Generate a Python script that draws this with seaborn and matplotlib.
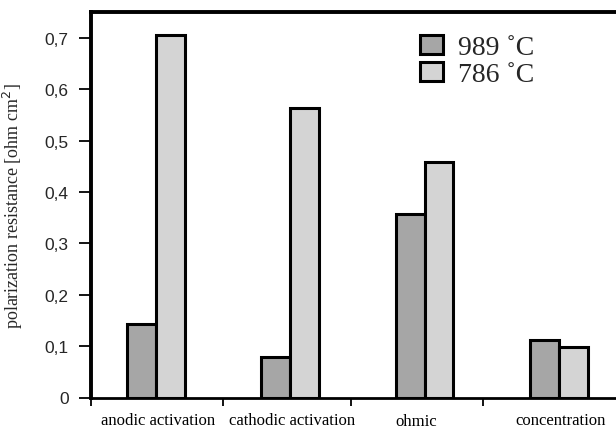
import matplotlib
matplotlib.use("Agg")
import matplotlib.pyplot as plt
import matplotlib.transforms as mtransforms
import seaborn as sns
import pandas as pd

# Polarization resistance contributions at two temperatures
categories = ["anodic activation", "cathodic activation", "ohmic", "concentration"]
temps = ["989 \u02daC", "786 \u02daC"]
r_989 = [0.143, 0.079, 0.357, 0.112]
r_786 = [0.705, 0.563, 0.459, 0.098]
y_ticks = [0, 0.1, 0.2, 0.3, 0.4, 0.5, 0.6, 0.7]
y_tick_labels = ["0", "0,1", "0,2", "0,3", "0,4", "0,5", "0,6", "0,7"]

df = pd.DataFrame({
    "mechanism": categories * 2,
    "temperature": [temps[0]] * 4 + [temps[1]] * 4,
    "resistance": r_989 + r_786,
})

sns.set_theme(style="white")
plt.rcParams["font.family"] = ["Liberation Serif", "DejaVu Serif"]

fig = plt.figure(figsize=(6.16, 4.31), dpi=100)
ax = fig.add_axes([91 / 616, 1 - 398.5 / 431, (620 - 91) / 616, (398.5 - 13) / 431])

sns.barplot(
    data=df, x="mechanism", y="resistance", hue="temperature",
    order=categories, hue_order=temps,
    palette=["#a6a6a6", "#d4d4d4"], width=0.43, gap=0,
    edgecolor="black", linewidth=2.2, saturation=1, ax=ax,
)

ax.set_xlim(-0.484, 3.455)
ax.set_ylim(0, 0.75)

# y axis
ax.set_yticks(y_ticks)
ax.set_yticklabels(y_tick_labels, fontfamily="Liberation Sans", fontsize=12.5)
ax.tick_params(axis="y", direction="out", length=9, width=1.3, pad=7, left=True, color="black")
ax.set_ylabel("polarization resistance [ohm cm$^2$]", fontsize=13, labelpad=14)

# x axis: separators between groups, labels drawn below
ax.set_xticks([])
ax.set_xticks([-0.484, 0.496, 1.449, 2.432], minor=True)
ax.tick_params(axis="x", which="minor", direction="out", length=6, width=1.3,
               bottom=True, color="black")
ax.set_xlabel("")
label_offsets = [2, 2, -8, 2]
label_drops = [0, 0, 1, 0]
trans = mtransforms.blended_transform_factory(ax.transData, ax.transAxes)
for i, (name, dx, dy) in enumerate(zip(categories, label_offsets, label_drops)):
    t = trans + mtransforms.ScaledTranslation(dx / 100, -dy / 100, fig.dpi_scale_trans)
    ax.text(i, -0.037, name, transform=t, ha="center", va="top", fontsize=12,
            color="black")

for side in ["left", "top"]:
    ax.spines[side].set_linewidth(2.8)
    ax.spines[side].set_color("black")
ax.spines["bottom"].set_linewidth(2.0)
ax.spines["bottom"].set_color("black")
ax.spines["right"].set_visible(False)

handles, labels = ax.get_legend_handles_labels()
ax.legend(handles, labels, loc="upper left", bbox_to_anchor=(0.60, 0.97),
          frameon=False, fontsize=20, handlelength=0.85, handleheight=0.7,
          handletextpad=0.55, labelspacing=0.05, borderaxespad=0)

fig.savefig("out.png", dpi=100)
